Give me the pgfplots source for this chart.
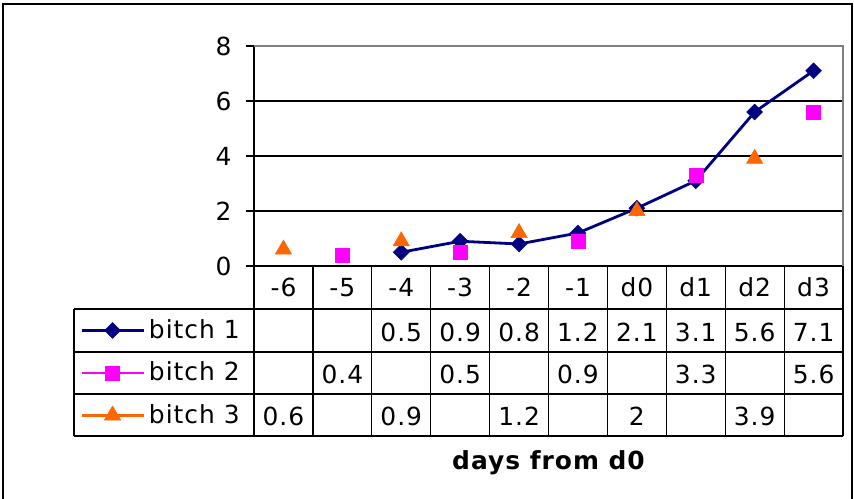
\documentclass[border=0pt]{standalone}
\usepackage{fontspec}
\setmainfont[LetterSpace=4]{DejaVu Sans}
\usepackage{pgfplots}
\pgfplotsset{compat=1.18}
\definecolor{bnavy}{RGB}{0,0,128}
\definecolor{bmag}{RGB}{255,0,255}
\definecolor{borange}{RGB}{255,102,0}
\definecolor{frame}{RGB}{128,128,128}

\begin{document}
\fontsize{25}{29}\selectfont
\begin{tikzpicture}[x=1bp,y=1bp]
\path[use as bounding box] (0,0) rectangle (854,499);
\draw[black, line width=1.2bp] (3,0) -- (3,495) -- (852,495) -- (852,0);
\begin{axis}[
  at={(254bp,233bp)}, anchor=south west,
  scale only axis, width=589bp, height=220bp,
  xmin=-0.5, xmax=9.5, ymin=0, ymax=8,
  axis x line*=bottom, axis y line*=left,
  axis line style={black, line width=1.3bp},
  xtick={0,...,9},
  xticklabels={-6,-5,-4,-3,-2,-1,d0,d1,d2,d3},
  x tick style={draw=none},
  xticklabel style={anchor=base, yshift=-22.5bp},
  ytick={0,2,4,6,8},
  y tick style={black, line width=1.2bp},
  tick align=outside, major tick length=8bp,
  yticklabel style={anchor=east, xshift=-6bp},
  /pgf/number format/assume math mode=true,
  ymajorgrids, grid style={black, line width=1.2bp},
  tick label style={font=\fontsize{25}{29}\selectfont},
  xlabel={\bfseries days from d0},
  xlabel style={at={(axis description cs:0.5,-0.927)}, anchor=base,
    font=\fontsize{25}{29}\selectfont},
  clip=false,
  unbounded coords=jump,
  legend cell align=left,
  legend style={at={(axis description cs:-0.2955,-0.19545)}, anchor=north west,
    draw=none, fill=none, inner sep=0pt, row sep=0pt,
    nodes={inner xsep=4bp, inner ysep=0pt, minimum height=42.5bp},
    font=\fontsize{25}{29}\selectfont},
  legend image code/.code={
    \draw[mark repeat=2, mark phase=2, #1] plot coordinates {(0bp,0bp) (31bp,0bp) (62bp,0bp)};
  },
]
\addplot[bnavy, line width=2.8bp, mark=square*, mark size=5.6bp,
  mark options={rotate=45, solid, line width=0.5bp}] coordinates {
  (2,0.5) (3,0.9) (4,0.8) (5,1.2) (6,2.1) (7,3.1) (8,5.6) (9,7.1)
};
\addlegendentry{bitch 1}
\addplot[bmag, line width=2.8bp, mark=square*, mark size=7bp,
  mark options={line width=0.5bp}] coordinates {
  (0,nan) (1,0.4) (2,nan) (3,0.5) (4,nan) (5,0.9) (6,nan) (7,3.3) (8,nan) (9,5.6)
};
\addlegendentry{bitch 2}
\addplot[borange, line width=2.8bp, mark=triangle*, mark size=9.5bp,
  mark options={line width=0.5bp}] coordinates {
  (0,0.6) (1,nan) (2,0.9) (3,nan) (4,1.2) (5,nan) (6,2) (7,nan) (8,3.9) (9,nan)
};
\addlegendentry{bitch 3}
% plot area border
\draw[frame, line width=1.6bp] (rel axis cs:0,1) -- (rel axis cs:1,1) -- (rel axis cs:1,0);
% data table grid
\foreach \k in {0,...,10}{
  \edef\tmp{\noexpand\draw[black, line width=1.2bp] (axis cs:{\k-0.5},0) -- (axis cs:{\k-0.5},-6.182);}\tmp
}
\draw[black, line width=1.2bp] (axis cs:-3.556,-1.5636) -- (axis cs:9.5,-1.5636);
\draw[black, line width=1.2bp] (axis cs:-3.556,-3.127) -- (axis cs:9.5,-3.127);
\draw[black, line width=1.2bp] (axis cs:-3.556,-4.6545) -- (axis cs:9.5,-4.6545);
\draw[black, line width=1.2bp] (axis cs:-3.556,-6.182) -- (axis cs:9.5,-6.182);
\draw[black, line width=1.2bp] (axis cs:-3.556,-1.5636) -- (axis cs:-3.556,-6.182);
% data table values
\foreach \i/\v in {2/0.5,3/0.9,4/0.8,5/1.2,6/2.1,7/3.1,8/5.6,9/7.1}{
  \edef\tmp{\noexpand\node[anchor=base, inner sep=0pt] at (axis cs:\i,-2.76) {\v};}\tmp
}
\foreach \i/\v in {1/0.4,3/0.5,5/0.9,7/3.3,9/5.6}{
  \edef\tmp{\noexpand\node[anchor=base, inner sep=0pt] at (axis cs:\i,-4.29) {\v};}\tmp
}
\foreach \i/\v in {0/0.6,2/0.9,4/1.2,6/2,8/3.9}{
  \edef\tmp{\noexpand\node[anchor=base, inner sep=0pt] at (axis cs:\i,-5.80) {\v};}\tmp
}
\end{axis}
\end{tikzpicture}
\end{document}
